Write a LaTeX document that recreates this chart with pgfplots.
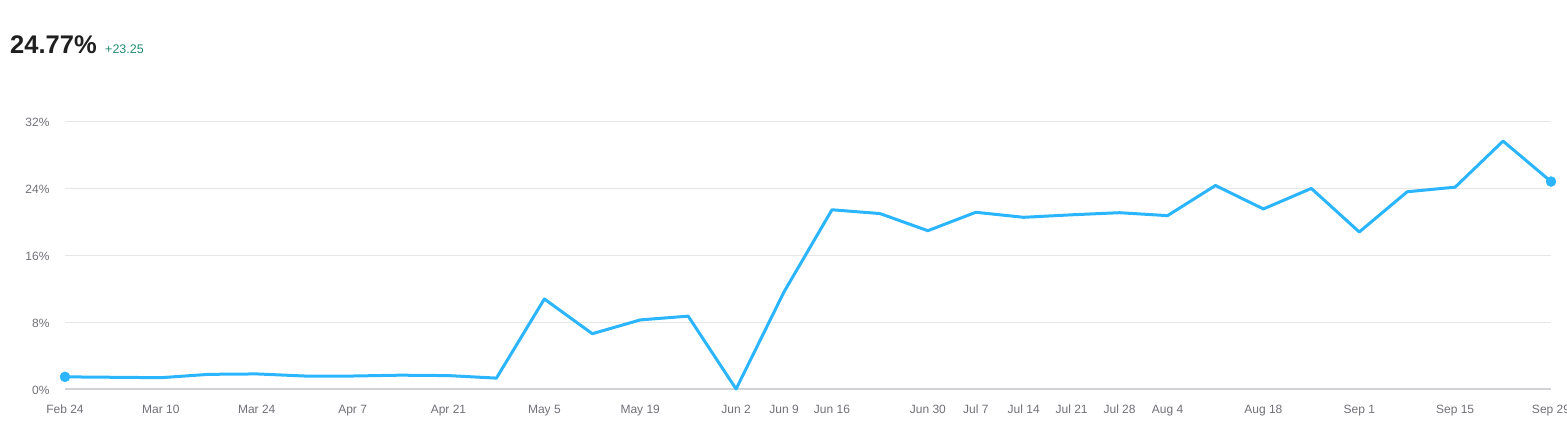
\documentclass[border=0pt]{standalone}
\usepackage{fontspec}
\setmainfont{Liberation Sans}
\usepackage{pgfplots}
\pgfplotsset{compat=1.18}

\definecolor{lineblue}{RGB}{43,181,255}
\definecolor{gridgray}{RGB}{230,230,230}
\definecolor{basegray}{RGB}{208,210,214}
\definecolor{ticktext}{RGB}{112,112,120}
\definecolor{deltagreen}{RGB}{34,139,112}

\pgfplotstableread{
idx val
0  1.45
1  1.40
2  1.35
3  1.75
4  1.80
5  1.55
6  1.55
7  1.65
8  1.60
9  1.30
10 10.75
11 6.60
12 8.25
13 8.70
14 0.00
15 11.60
16 21.40
17 20.95
18 18.90
19 21.10
20 20.50
21 20.80
22 21.05
23 20.70
24 24.30
25 21.50
26 23.95
27 18.75
28 23.55
29 24.10
30 29.60
31 24.77
}\weekly

\begin{document}
\begin{tikzpicture}[x=1pt,y=1pt]
\path[use as bounding box] (0,0) rectangle (1567,426);
\node[anchor=base west, font=\fontsize{25.5}{30}\selectfont\bfseries, text=black!88, inner sep=0pt] at (10,372) {24.77\%};
\node[anchor=base west, font=\fontsize{12.5}{14}\selectfont, text=deltagreen, inner sep=0pt] at (105,372) {+23.25};
\begin{axis}[
    at={(65pt,37pt)}, anchor=south west,
    scale only axis,
    width=1486pt, height=268pt,
    xmin=0, xmax=31, ymin=0, ymax=32,
    axis line style={draw=none},
    major tick length=0pt,
    ytick={8,16,24,32},
    yticklabel={\pgfmathprintnumber{\tick}\%},
    ymajorgrids,
    grid style={gridgray, line width=1pt},
    extra y ticks={0},
    extra y tick labels={0\%},
    extra y tick style={grid style={basegray, line width=2pt}},
    xtick={0,2,4,6,8,10,12,14,15,16,18,19,20,21,22,23,25,27,29,31},
    xticklabels={Feb 24,Mar 10,Mar 24,Apr 7,Apr 21,May 5,May 19,Jun 2,Jun 9,Jun 16,Jun 30,Jul 7,Jul 14,Jul 21,Jul 28,Aug 4,Aug 18,Sep 1,Sep 15,Sep 29},
    tick label style={font=\fontsize{12}{14}\selectfont, text=ticktext},
    /pgf/number format/assume math mode=true,
    xticklabel style={anchor=north, text height=9pt, text depth=3pt, yshift=-12pt},
    yticklabel style={xshift=-12pt, yshift=-1.5pt},
    clip=false,
]
\addplot[lineblue, line width=3pt, line join=round, mark=none] table[x=idx,y=val] {\weekly};
\addplot[only marks, mark=*, mark size=5pt, lineblue, mark options={draw=lineblue, fill=lineblue}] coordinates {(0,1.45) (31,24.77)};
\end{axis}
\end{tikzpicture}
\end{document}
